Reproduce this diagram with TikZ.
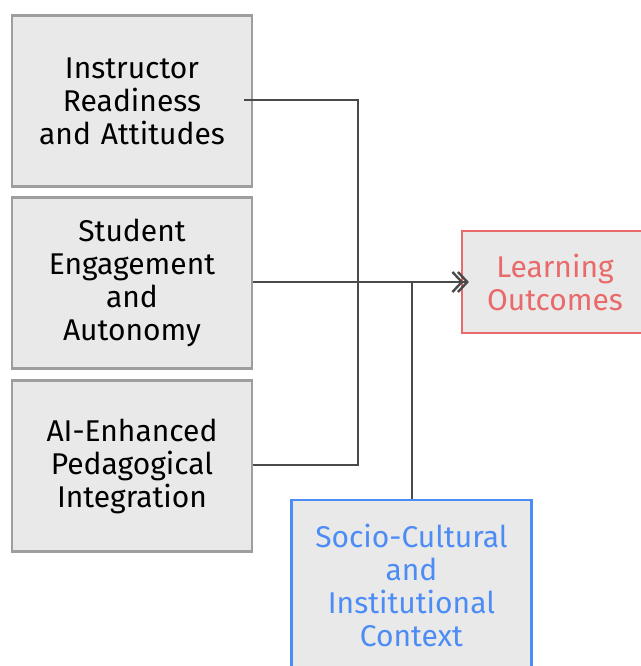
\documentclass[tikz,border=0pt]{standalone}
\usepackage{fontspec}
\setmainfont{Fira Sans}
\usetikzlibrary{arrows.meta}
\definecolor{boxfill}{HTML}{E9E9E9}
\definecolor{boxline}{HTML}{9E9E9E}
\definecolor{wire}{HTML}{4A4A4A}
\definecolor{outred}{HTML}{E96A6A}
\definecolor{ctxblue}{HTML}{4D8CF5}
\newlength{\unitpx}
\setlength{\unitpx}{0.75pt}
\tikzset{
  factor/.style={draw=boxline, fill=boxfill, line width=1.6pt,
    minimum width=240\unitpx, minimum height=171\unitpx,
    align=center, inner sep=0pt, text width=230\unitpx,
    font=\fontsize{22.5}{24.75}\selectfont},
  outcome/.style={factor, draw=outred, text=outred, minimum width=186\unitpx,
    minimum height=102\unitpx, text width=176\unitpx},
  context/.style={factor, draw=ctxblue, text=ctxblue},
  wireline/.style={draw=wire, line width=1.8pt},
  tip/.style={-{Straight Barb[length=7pt,width=15pt,line width=1.8pt,sep=-5pt]Straight Barb[length=7pt,width=15pt,line width=1.8pt]}}
}
\begin{document}
\begin{tikzpicture}[x=0.75pt,y=-0.75pt]
  \useasboundingbox (0,0) rectangle (641,666);
  \clip (0,0) rectangle (641,666);
  % factor boxes
  \node[factor] (ins) at (132,101) {Instructor\\Readiness\\and Attitudes};
  \node[factor] (stu) at (132,283) {Student\\Engagement\\and\\Autonomy};
  \node[factor] (ped) at (132,466) {AI-Enhanced\\Pedagogical\\Integration};
  \node[outcome] (lo) at (555,282) {Learning\\Outcomes};
  \node[context] (ctx) at (411.5,585.5) {Socio-Cultural\\and\\Institutional\\Context};
  % junction points
  \coordinate (j1) at (358,100);
  \coordinate (j3) at (358,465);
  \coordinate (jc) at (412,282);
  % connectors
  \draw[wireline] ([xshift=-9\unitpx]ins.east |- j1) -- (j1) -- (j3) -- (ped.east |- j3);
  \draw[wireline] (ctx.north -| jc) -- (jc);
  \draw[wireline, tip] (stu.east |- jc) -- ([xshift=8\unitpx]lo.west);
\end{tikzpicture}
\end{document}
